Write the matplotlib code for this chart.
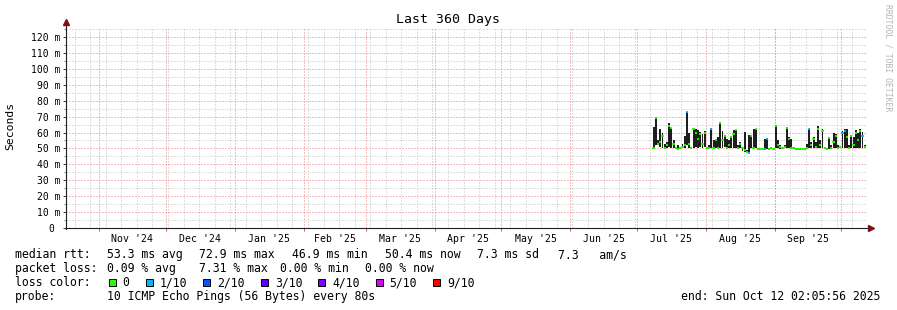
import matplotlib
matplotlib.use("Agg")
import matplotlib.pyplot as plt
import matplotlib.dates as mdates
from matplotlib import transforms
from matplotlib.patches import Rectangle
from matplotlib.lines import Line2D
import numpy as np
import pandas as pd

# ---------------- data ----------------
chart_title = "Last 360 Days"
start_time = "2024-10-17 02:05:56"
end_time = "2025-10-12 02:05:56"
first_day = "2025-07-08"

# daily median rtt (ms)
median_ms = [
    50, 69, 53, 54, 58, 50, 52, 64, 63, 53,
    50, 49.5, 50, 51, 52, 72.9, 53, 50, 62.5, 60,
    56, 59, 53, 60, 50, 50, 62.5, 50, 55, 50,
    66, 55, 58, 50, 52, 57, 59, 61.5, 50, 53,
    50, 49, 48, 46.9, 58, 50, 62, 49.5, 49.5, 49.5,
    49.5, 56, 49.5, 50, 49.5, 64, 52, 51, 50, 51,
    63, 56, 50, 50, 49.5, 49.5, 49.5, 49.5, 49.5, 50,
    62, 52, 56, 51, 62, 52, 61, 50, 49.5, 56.5,
    50, 54, 58, 50, 51, 60, 61, 57, 50, 58,
    52, 60, 55, 61, 58, 51,
]
# daily smoke range (ms)
smoke_hi_ms = [
    63.5, 69.5, 55, 62.5, 60, 53, 54, 66, 63, 55,
    51, 52, 51, 53, 58, 73, 60, 51, 63, 62,
    61.5, 60.5, 59, 61, 51, 52, 63, 55, 56, 57,
    66.5, 61, 58.5, 56, 55, 58, 61.5, 61.8, 52, 54,
    51, 60.5, 49, 58.5, 58.5, 62.5, 62.5, 50.5, 50, 50.5,
    56, 56.5, 50, 51, 50, 64.5, 55, 52, 51, 52,
    63.5, 57, 56, 51, 50.5, 50, 50, 50, 50.5, 53,
    62.5, 54, 57, 54, 64, 55, 62.5, 51, 50.5, 57,
    52, 59.5, 59, 52, 51.5, 61, 62.5, 62, 52, 58.5,
    57, 61.5, 60, 62, 60.5, 52,
]
smoke_lo_ms = [
    49.5, 52, 52, 51, 50, 49.5, 50, 51, 50, 50,
    49.5, 49, 49.5, 50, 50, 52, 50, 49.5, 50, 51,
    50, 51, 50, 51, 49.5, 49.5, 50, 49.5, 50, 49.5,
    50, 50, 51, 49.5, 50, 50, 50.5, 50, 49.5, 50,
    48.5, 48, 47.5, 46.9, 50, 49.5, 50, 49, 49, 49,
    49, 49.5, 49, 49.5, 49, 50, 50, 49.5, 49.5, 50,
    50, 50, 49.5, 49.5, 49, 49, 49, 49, 49, 49.5,
    50, 50, 50, 50, 50, 50, 50, 49.5, 49, 49.5,
    49.5, 50, 50, 49.5, 50, 50, 50.5, 50, 49.5, 50,
    50, 50, 50, 50, 50, 50,
]
# lost pings out of 10 for each day
loss_count = [
    0, 0, 0, 0, 0, 0, 0, 0, 0, 0,
    0, 0, 0, 0, 0, 1, 0, 0, 0, 0,
    0, 0, 0, 0, 0, 0, 1, 0, 0, 0,
    0, 0, 0, 0, 0, 0, 0, 0, 0, 0,
    0, 0, 0, 1, 0, 0, 0, 0, 0, 0,
    1, 1, 0, 0, 0, 0, 0, 0, 0, 0,
    0, 0, 0, 0, 0, 0, 0, 0, 0, 0,
    1, 0, 0, 0, 0, 0, 0, 0, 0, 0,
    0, 0, 0, 0, 0, 1, 1, 0, 0, 0,
    0, 0, 0, 0, 1, 0,
]

loss_levels = [0, 1, 2, 3, 4, 5, 9]
loss_labels = ["0", "1/10", "2/10", "3/10", "4/10", "5/10", "9/10"]
loss_colors = ["#26ff00", "#00b8ff", "#0059ff", "#5e00ff", "#7e00ff", "#dd00ff", "#ff0000"]

y_ticks = [0, 10, 20, 30, 40, 50, 60, 70, 80, 90, 100, 110, 120]
y_tick_labels = ["0", "10 m", "20 m", "30 m", "40 m", "50 m", "60 m", "70 m",
                 "80 m", "90 m", "100 m", "110 m", "120 m"]
y_minor = [5, 15, 25, 35, 45, 55, 65, 75, 85, 95, 105, 115, 125]

rtt_legend = [("median rtt:", 16), ("53.3 ms avg", 107.3), ("72.9 ms max", 200),
              ("46.9 ms min", 292.7), ("50.4 ms now", 385.7), ("7.3 ms sd", 477.5),
              ("7.3   am/s", 559)]
loss_legend = [("packet loss:", 16), ("0.09 % avg", 107.3), ("7.31 % max", 200),
               ("0.00 % min", 280.5), ("0.00 % now", 366)]
probe_text = "10 ICMP Echo Pings (56 Bytes) every 80s"
end_text = "end: Sun Oct 12 02:05:56 2025"

# ---------------- layout ----------------
W, H = 897, 310
MONO = "DejaVu Sans Mono"
plt.rcParams["font.family"] = MONO
plt.rcParams["lines.scale_dashes"] = False


def fx(x):
    return x / W


def fy(y):
    return 1 - y / H


fig = plt.figure(figsize=(W / 100, H / 100), dpi=100, facecolor="white")
ax_l, ax_r, ax_b, ax_t = 66, 866, 228, 27
ax = fig.add_axes([fx(ax_l), fy(ax_b), (ax_r - ax_l) / W, (ax_b - ax_t) / H])
ax.set_facecolor("white")

t0 = mdates.date2num(pd.Timestamp(start_time).to_pydatetime())
t1 = mdates.date2num(pd.Timestamp(end_time).to_pydatetime())
ymax = 126.3
ax.set_xlim(t0, t1)
ax.set_ylim(0, ymax)
for s in ax.spines.values():
    s.set_visible(False)

# grid (dotted: 1px on / 2px off)
GRID_MINOR = "#c0c0c0"
GRID_MAJOR = "#ee8080"
dot = (0, (0.72, 1.44))
weeks = pd.date_range(pd.Timestamp(start_time).normalize(), end_time, freq="W-MON")
months = pd.date_range("2024-11-01", end_time, freq="MS")
gkw = dict(lw=0.72, ls=dot, snap=True)
for d in weeks:
    ax.axvline(mdates.date2num(d.to_pydatetime()), color=GRID_MINOR, zorder=0.5, **gkw)
for v in y_minor:
    ax.axhline(v, color=GRID_MINOR, zorder=0.5, **gkw)
for d in months:
    ax.axvline(mdates.date2num(d.to_pydatetime()), color=GRID_MAJOR, zorder=0.6, **gkw)
for v in y_ticks[1:]:
    ax.axhline(v, color=GRID_MAJOR, zorder=0.6, **gkw)

# data
days = pd.date_range(first_day, periods=len(median_ms), freq="D")
xd = mdates.date2num(days.to_pydatetime())
hi = np.array(smoke_hi_ms)
lo = np.array(smoke_lo_ms)
ax.bar(xd + 0.5, hi - lo, bottom=lo, width=0.85, align="center", color="#1e1e1e",
       linewidth=0, zorder=2)
col_of = dict(zip(loss_levels, loss_colors))
ax.hlines(median_ms, xd, xd + 1.0, colors=[col_of[c] for c in loss_count],
          linewidth=1.3, zorder=3)

# ticks
ax.set_yticks(y_ticks)
ax.set_yticks(y_minor, minor=True)
ax.set_xticks(mdates.date2num(months.to_pydatetime()))
ax.tick_params(axis="y", which="major", length=2.5, width=0.72, color="#404040",
               labelleft=False)
ax.tick_params(axis="y", which="minor", length=1.2, width=0.72, color="#808080")
ax.tick_params(axis="x", which="major", length=2, width=0.72, color="#c06060",
               labelbottom=False)

ylab_tr = ax.get_yaxis_transform()
for v, lab in zip(y_ticks, y_tick_labels):
    off = -6 if lab.endswith("m") else -12
    tr = transforms.offset_copy(ylab_tr, fig=fig, x=off, y=0, units="dots")
    ax.text(0, v, lab, transform=tr, ha="right", va="center_baseline",
            fontsize=7.0, color="black", clip_on=False)

# month labels centred in each month
xlab_tr = transforms.blended_transform_factory(ax.transData, fig.transFigure)
edges = list(pd.date_range("2024-11-01", "2025-11-01", freq="MS"))
for a, b in zip(edges[:-1], edges[1:]):
    mid = (mdates.date2num(a.to_pydatetime()) + mdates.date2num(b.to_pydatetime())) / 2
    if mid < t1:
        fig.text(mid, fy(241.5), a.strftime("%b '%y"), transform=xlab_tr,
                 ha="center", va="baseline", fontsize=7.1)

# axis lines with arrows
AXIS = "#202020"
ARROW = "#801010"
fig.add_artist(Line2D([fx(ax_l), fx(ax_l)], [fy(ax_b + 1), fy(22)], color=AXIS,
                      lw=0.8, transform=fig.transFigure))
fig.add_artist(Line2D([fx(ax_l - 1), fx(870)], [fy(ax_b), fy(ax_b)], color=AXIS,
                      lw=0.8, transform=fig.transFigure))
fig.add_artist(Line2D([fx(ax_l)], [fy(22)], marker="^", markersize=4.5, color=ARROW,
                      transform=fig.transFigure, lw=0))
fig.add_artist(Line2D([fx(871)], [fy(ax_b)], marker=">", markersize=4.5, color=ARROW,
                      transform=fig.transFigure, lw=0))

# titles
fig.text(fx(448), fy(23.5), chart_title, ha="center", va="baseline", fontsize=9.5)
fig.text(fx(10.5), fy(126), "Seconds", rotation=90, ha="center", va="center",
         fontsize=8.2)
fig.text(fx(887.5), fy(3.5), "RRDTOOL / TOBI OETIKER", rotation=270, ha="center",
         va="top", fontsize=5.9, color="#b4b4b4")

# legend
FS = 8.3
for txt, x in rtt_legend:
    fig.text(fx(x - 0.7), fy(258), txt, ha="left", va="baseline", fontsize=FS)
for txt, x in loss_legend:
    fig.text(fx(x - 0.7), fy(272), txt, ha="left", va="baseline", fontsize=FS)
fig.text(fx(15.3), fy(286), "loss color:", ha="left", va="baseline", fontsize=FS)
box_x = [108.7, 145.7, 203.3, 261, 318.3, 375.7, 433.3]
for bx, lab, c in zip(box_x, loss_labels, loss_colors):
    fig.add_artist(Rectangle((fx(bx), fy(285.5)), 7 / W, 7 / H, facecolor=c,
                             edgecolor="black", lw=0.7, transform=fig.transFigure))
    fig.text(fx(bx + 14), fy(286), lab, ha="left", va="baseline", fontsize=FS)
fig.text(fx(15.3), fy(300), "probe:", ha="left", va="baseline", fontsize=FS)
fig.text(fx(106.6), fy(300), probe_text, ha="left", va="baseline", fontsize=FS)
fig.text(fx(880.5), fy(300), end_text, ha="right", va="baseline", fontsize=FS)

fig.savefig("out.png", dpi=100, facecolor="white")
